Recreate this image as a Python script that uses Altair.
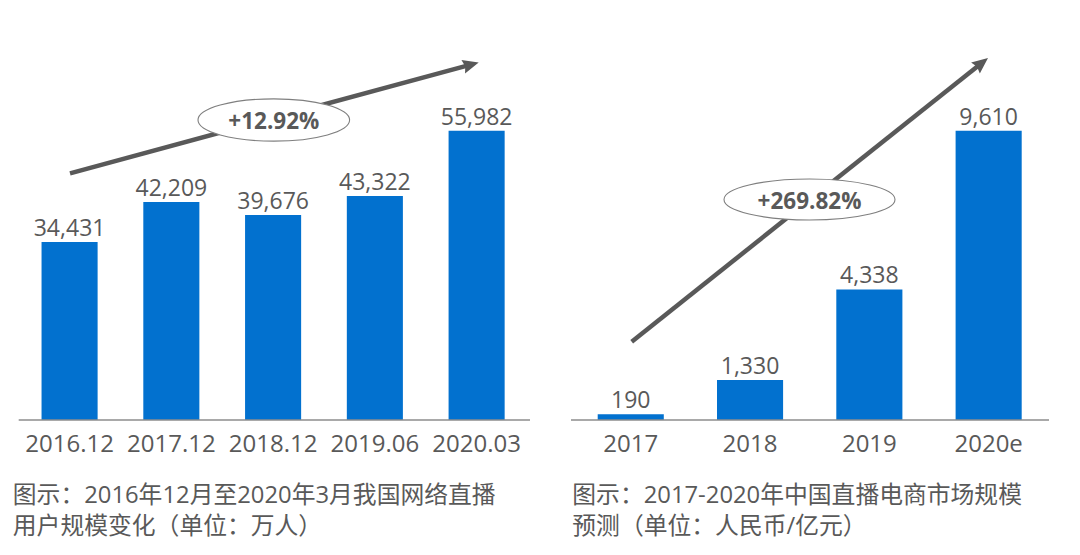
import math
import altair as alt
import pandas as pd

# ---------------- data ----------------
left_periods = ["2016.12", "2017.12", "2018.12", "2019.06", "2020.03"]
left_values = [34431, 42209, 39676, 43322, 55982]
right_years = ["2017", "2018", "2019", "2020e"]
right_values = [190, 1330, 4338, 9610]
left_growth = "+12.92%"
right_growth = "+269.82%"
left_caption = ["图示：2016年12月至2020年3月我国网络直播", "用户规模变化（单位：万人）"]
right_caption = ["图示：2017-2020年中国直播电商市场规模", "预测（单位：人民币/亿元）"]

# ---------------- style ----------------
BLUE = "#0271cf"
GRAY = "#595959"
AXIS_GRAY = "#8c8c8c"
NUM_FONT = "Open Sans"
CJK_FONT = "Open Sans, Noto Sans CJK SC"
OFF = 8  # page margin


def P(v):
    return v - OFF


BASE_Y = P(420)
TOP_Y = P(130.7)
one = pd.DataFrame({"k": [0]})


def panel(df, field, xrange, pin, pout, ax0, ax1):
    cats = list(df[field])
    x = alt.X(f"{field}:N", axis=None,
              scale=alt.Scale(domain=cats, range=xrange,
                              paddingInner=pin, paddingOuter=pout))
    y = alt.Y("value:Q", axis=None,
              scale=alt.Scale(range=[BASE_Y, TOP_Y], zero=True, nice=False))
    base = alt.Chart(df)
    bars = base.mark_bar(color=BLUE).encode(x=x, y=y)
    axis_line = alt.Chart(one).mark_rule(color=AXIS_GRAY, strokeWidth=1.3).encode(
        x=alt.value(P(ax0)), x2=alt.value(P(ax1)), y=alt.value(BASE_Y))
    vals = base.mark_text(font=NUM_FONT, fontSize=23, color=GRAY,
                          baseline="alphabetic", dy=-6).encode(
        x=x, y=y, text=alt.Text("value:Q", format=","))
    ticks = base.mark_text(font=NUM_FONT, fontSize=24, color=GRAY,
                           baseline="alphabetic").encode(
        x=x, y=alt.value(P(451.5)), text=f"{field}:N")
    return alt.layer(bars, axis_line, vals, ticks)


left_df = pd.DataFrame({"period": left_periods, "value": left_values})
right_df = pd.DataFrame({"year": right_years, "value": right_values})

left_panel = panel(left_df, "period", [P(18.7), P(527.5)], 0.449, 0.2245, 18.7, 530)
right_panel = panel(right_df, "year", [P(571.1), P(1048.3)], 0.446, 0.223, 571, 1049)

HEAD = "M0,-1 L0.7,0.6 L0,0.4 L-0.7,0.6 Z"


def arrow(x0, y0, x1, y1):
    dx, dy = x1 - x0, y1 - y0
    L = math.hypot(dx, dy)
    ux, uy = dx / L, dy / L
    unit = 10
    ox, oy = x1 - unit * ux, y1 - unit * uy
    ang = math.degrees(math.atan2(dx, -dy))
    shaft = alt.Chart(one).mark_rule(color=GRAY, strokeWidth=4.5).encode(
        x=alt.value(P(x0)), y=alt.value(P(y0)),
        x2=alt.value(P(ox)), y2=alt.value(P(oy)))
    head = alt.Chart(one).mark_point(shape=HEAD, size=(2 * unit) ** 2, angle=ang,
                                     filled=True, color=GRAY, opacity=1).encode(
        x=alt.value(P(ox)), y=alt.value(P(oy)))
    return [shaft, head]


def ellipse_path(r):
    k = 0.5523
    return (f"M-1,0 C-1,{-r*k:.4f} {-k},{-r:.4f} 0,{-r:.4f} "
            f"C{k},{-r:.4f} 1,{-r*k:.4f} 1,0 "
            f"C1,{r*k:.4f} {k},{r:.4f} 0,{r:.4f} "
            f"C{-k},{r:.4f} -1,{r*k:.4f} -1,0 Z")


def badge(cx, cy, w, h, label):
    ell = alt.Chart(one).mark_point(shape=ellipse_path(h / w), size=w * w,
                                    filled=True, fill="white", stroke="#7f7f7f",
                                    strokeWidth=1.1, opacity=1, fillOpacity=1).encode(
        x=alt.value(P(cx)), y=alt.value(P(cy)))
    txt = alt.Chart(one).mark_text(font=NUM_FONT, fontWeight="bold", fontSize=22.5,
                                   color=GRAY, baseline="middle", align="center").encode(
        x=alt.value(P(cx)), y=alt.value(P(cy + 2)), text=alt.value(label))
    return [ell, txt]


def caption(x, lines):
    return [alt.Chart(one).mark_text(font=CJK_FONT, fontSize=23.8, color=GRAY,
                                     align="left", baseline="alphabetic",
                                     lineHeight=30.5).encode(
        x=alt.value(P(x)), y=alt.value(P(503.3)), text=alt.value(lines))]


annotations = (
    arrow(70, 173.3, 478.7, 62.5)
    + badge(273.8, 120, 151.6, 42.3, left_growth)
    + arrow(631.7, 341.7, 988, 58)
    + badge(809.5, 199.5, 171, 41, right_growth)
    + caption(12.8, left_caption)
    + caption(572.3, right_caption)
)

chart = alt.layer(left_panel, right_panel, *annotations).resolve_scale(
    x="independent", y="independent"
).properties(
    width=1060, height=538, autosize="none", padding=0
).configure_view(stroke=None)

chart.save("out.html", embed_options={"renderer": "svg", "actions": False})
